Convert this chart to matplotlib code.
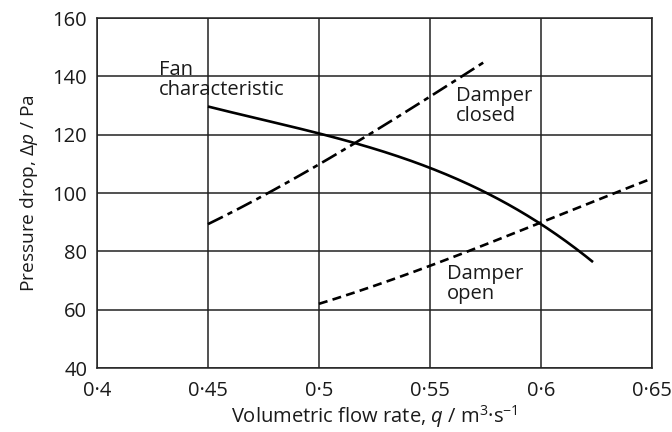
import matplotlib
matplotlib.use("Agg")
import matplotlib.pyplot as plt
import numpy as np

plt.rcParams["font.family"] = ["Open Sans", "DejaVu Sans"]
plt.rcParams["mathtext.fontset"] = "custom"
plt.rcParams["mathtext.rm"] = "Open Sans"
plt.rcParams["mathtext.it"] = "Open Sans:italic"

# curve readings (flow rate m3/s, pressure drop Pa)
fan_q = [0.45, 0.475, 0.5, 0.525, 0.55, 0.575, 0.6, 0.6235]
fan_dp = [129.2, 126.3, 120.0, 114.8, 108.5, 100.3, 90.0, 76.0]

closed_q = [0.45, 0.475, 0.5, 0.525, 0.55, 0.5745]
closed_dp = [89.4, 99.0, 110.0, 121.2, 133.0, 145.0]

open_q = [0.5, 0.525, 0.55, 0.575, 0.6, 0.625, 0.65]
open_dp = [62.0, 68.3, 75.0, 82.3, 90.0, 97.5, 105.0]

x_ticks = [0.4, 0.45, 0.5, 0.55, 0.6, 0.65]
x_labels = ["0·4", "0·45", "0·5", "0·55", "0·6", "0·65"]
y_ticks = [40, 60, 80, 100, 120, 140, 160]


def smooth(x, y, n=200):
    # cubic fit through the read points for a smooth line
    x = np.asarray(x); y = np.asarray(y)
    xs = np.linspace(x[0], x[-1], n)
    coef = np.polyfit(x, y, min(3, len(x) - 1))
    return xs, np.polyval(coef, xs)


fig = plt.figure(figsize=(6.72, 4.32), dpi=100)
ax = fig.add_axes([0.1443, 0.148, 0.8257, 0.810])

lw = 1.9
xs, ys = smooth(fan_q, fan_dp)
ax.plot(xs, ys, color="black", lw=lw, solid_capstyle="butt")
xs, ys = smooth(closed_q, closed_dp)
ax.plot(xs, ys, color="black", lw=lw, dashes=(6.3, 2.0, 2.0, 2.0), dash_capstyle="butt")
xs, ys = smooth(open_q, open_dp)
ax.plot(xs, ys, color="black", lw=lw, dashes=(3.4, 2.0), dash_capstyle="butt")

ax.set_xlim(0.4, 0.65)
ax.set_ylim(40, 160)
ax.set_xticks(x_ticks)
ax.set_xticklabels(x_labels)
ax.set_yticks(y_ticks)
ax.tick_params(length=0, labelsize=14.5, colors="#1a1a1a")
ax.tick_params(axis="x", pad=9)
ax.tick_params(axis="y", pad=7)
ax.grid(True, color="#222222", lw=1.1)
ax.set_axisbelow(True)
for s in ax.spines.values():
    s.set_color("#222222")
    s.set_linewidth(1.1)

ax.set_xlabel(r"Volumetric flow rate, $q$ / m$^{3}$·s$^{-1}$", fontsize=14.5,
              color="#1a1a1a", labelpad=2)
ax.set_ylabel(r"Pressure drop, Δ$p$ / Pa", fontsize=13.8, color="#1a1a1a", labelpad=9)

ax.text(0.4279, 138.8, "Fan\ncharacteristic", fontsize=14.5, va="center", ha="left",
        linespacing=1.0, color="#1a1a1a")
ax.text(0.5617, 129.8, "Damper\nclosed", fontsize=14.5, va="center", ha="left",
        linespacing=1.0, color="#1a1a1a")
ax.text(0.5577, 68.8, "Damper\nopen", fontsize=14.5, va="center", ha="left",
        linespacing=1.0, color="#1a1a1a")

fig.savefig("out.png", dpi=100)
